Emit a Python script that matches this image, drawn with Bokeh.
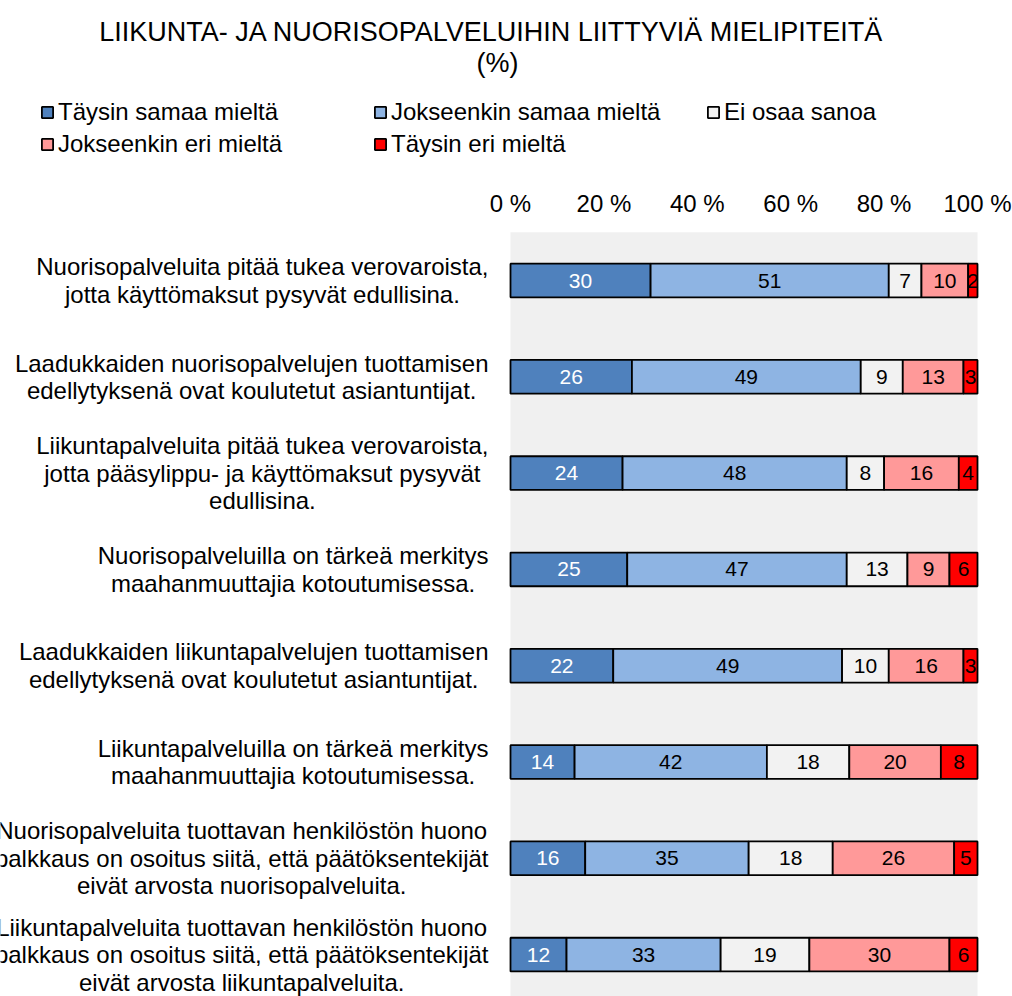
from bokeh.plotting import figure
from bokeh.models import ColumnDataSource, Range1d, Label, Legend, LegendItem
from bokeh.core.properties import value
from bokeh.embed import file_html
from bokeh.resources import INLINE

# ---------------- data ----------------
title_line1 = "LIIKUNTA- JA NUORISOPALVELUIHIN LIITTYVIÄ MIELIPITEITÄ"
title_line2 = "(%)"

categories = [
    "Nuorisopalveluita pitää tukea verovaroista,\njotta käyttömaksut pysyvät edullisina.",
    "Laadukkaiden nuorisopalvelujen tuottamisen\nedellytyksenä ovat koulutetut asiantuntijat.",
    "Liikuntapalveluita pitää tukea verovaroista,\njotta pääsylippu- ja käyttömaksut pysyvät\nedullisina.",
    "Nuorisopalveluilla on tärkeä merkitys\nmaahanmuuttajia kotoutumisessa.",
    "Laadukkaiden liikuntapalvelujen tuottamisen\nedellytyksenä ovat koulutetut asiantuntijat.",
    "Liikuntapalveluilla on tärkeä merkitys\nmaahanmuuttajia kotoutumisessa.",
    "Nuorisopalveluita tuottavan henkilöstön huono\npalkkaus on osoitus siitä, että päätöksentekijät\neivät arvosta nuorisopalveluita.",
    "Liikuntapalveluita tuottavan henkilöstön huono\npalkkaus on osoitus siitä, että päätöksentekijät\neivät arvosta liikuntapalveluita.",
]

series_names = ["Täysin samaa mieltä", "Jokseenkin samaa mieltä", "Ei osaa sanoa",
                "Jokseenkin eri mieltä", "Täysin eri mieltä"]
taysin_samaa = [30, 26, 24, 25, 22, 14, 16, 12]
jokseenkin_samaa = [51, 49, 48, 47, 49, 42, 35, 33]
ei_osaa = [7, 9, 8, 13, 10, 18, 18, 19]
jokseenkin_eri = [10, 13, 16, 9, 16, 20, 26, 30]
taysin_eri = [2, 3, 4, 6, 3, 8, 5, 6]

tick_values = [0, 20, 40, 60, 80, 100]
tick_labels = ["0 %", "20 %", "40 %", "60 %", "80 %", "100 %"]

# ---------------- styles / layout ----------------
colors = ["#4F81BD", "#8EB4E3", "#F2F2F2", "#FF9999", "#FF0000"]
value_text_colors = ["#FFFFFF", "#000000", "#000000", "#000000", "#000000"]
FONT = "Liberation Sans"
LABEL_PX = 24
W_PX, H_PX = 1012, 996
AREA_LEFT, AREA_RIGHT = 510, 977        # pixel extent of the 0..100 % area
FIRST_CENTER, ROW_STEP = 280, 96.3      # pixel centre of first bar, spacing of bars

# Helvetica / Arial advance widths (1/1000 em), used to centre wrapped label lines
_W = {' ': 278, ',': 278, '.': 278, '-': 333, '(': 333, ')': 333, '%': 889,
      'a': 556, 'b': 556, 'c': 500, 'd': 556, 'e': 556, 'f': 278, 'g': 556, 'h': 556,
      'i': 222, 'j': 222, 'k': 500, 'l': 222, 'm': 833, 'n': 556, 'o': 556, 'p': 556,
      'q': 556, 'r': 333, 's': 500, 't': 278, 'u': 556, 'v': 500, 'w': 722, 'x': 500,
      'y': 500, 'z': 500, 'ä': 556, 'ö': 556, 'å': 556,
      'A': 667, 'B': 667, 'C': 722, 'D': 722, 'E': 667, 'F': 611, 'G': 778, 'H': 722,
      'I': 278, 'J': 500, 'K': 667, 'L': 556, 'M': 833, 'N': 722, 'O': 778, 'P': 667,
      'Q': 778, 'R': 722, 'S': 667, 'T': 611, 'U': 722, 'V': 667, 'W': 944, 'X': 667,
      'Y': 667, 'Z': 611, 'Ä': 667, 'Ö': 778}
for d in "0123456789":
    _W[d] = 556


def text_width(s, px):
    return sum(_W.get(c, 556) for c in s) * px / 1000.0


n = len(categories)
ypos = list(range(n))
series = [taysin_samaa, jokseenkin_samaa, ei_osaa, jokseenkin_eri, taysin_eri]

xu = (AREA_RIGHT - AREA_LEFT) / 100.0
x_start = -AREA_LEFT / xu
x_end = 100 + (W_PX - AREA_RIGHT) / xu
y_top = -FIRST_CENTER / ROW_STEP
y_bottom = (H_PX - FIRST_CENTER) / ROW_STEP

p = figure(width=W_PX, height=H_PX,
           x_range=Range1d(x_start, x_end), y_range=Range1d(y_bottom, y_top),
           x_axis_location=None, y_axis_location=None,
           min_border_left=0, min_border_right=0, min_border_top=0, min_border_bottom=0,
           output_backend="svg", toolbar_location=None)
p.background_fill_color = "#FFFFFF"
p.border_fill_color = "#FFFFFF"
p.outline_line_color = None
p.grid.visible = False

# plot-area background
p.quad(left=0, right=100, top=-0.5, bottom=n - 0.5 + 0.1,
       fill_color="#F0F0F0", line_color=None)

# percentage axis labels on top
p.text(x=tick_values, y=[-0.5] * len(tick_values), text=tick_labels,
       y_offset=-29, text_align="center", text_baseline="middle",
       text_font=value(FONT), text_font_size="24px", text_color="#000000")

# stacked 100 % bars
totals = [sum(s[i] for s in series) for i in ypos]
cum = [0.0] * n
renderers = []
for k, s in enumerate(series):
    left = cum[:]
    right = [cum[i] + s[i] * 100.0 / totals[i] for i in ypos]
    mid = [(a + b) / 2 for a, b in zip(left, right)]
    src = ColumnDataSource(dict(y=ypos, left=left, right=right, mid=mid,
                                txt=[str(v) for v in s]))
    r = p.hbar(y="y", left="left", right="right", height=0.35, source=src,
               fill_color=colors[k], line_color="#000000", line_width=1.8)
    renderers.append(r)
    p.text(x="mid", y="y", text="txt", source=src, text_color=value_text_colors[k],
           text_font=value(FONT), text_font_size="21px",
           text_align="center", text_baseline="middle")
    cum = right

# category labels: each wrapped line centred within its block, block right-aligned
rows = dict(x=[], y=[], xo=[], yo=[], text=[])
LINE_H = 27.5
for i, cat in enumerate(categories):
    lines = cat.split("\n")
    wmax = max(text_width(l, LABEL_PX) for l in lines)
    m = len(lines)
    for k, line in enumerate(lines):
        rows["x"].append(0)
        rows["y"].append(ypos[i])
        rows["xo"].append(-(22 + wmax / 2.0))
        rows["yo"].append((k - (m - 1) / 2.0) * LINE_H)
        rows["text"].append(line)
p.text(x="x", y="y", x_offset="xo", y_offset="yo", text="text",
       source=ColumnDataSource(rows), text_align="center", text_baseline="middle",
       text_font=value(FONT), text_font_size="24px", text_color="#000000")

# title
p.add_layout(Label(x=491, y=H_PX - 31, x_units="screen", y_units="screen", text=title_line1,
                   text_align="center", text_baseline="middle", text_font=FONT,
                   text_font_size="27px", text_color="#000000"))
p.add_layout(Label(x=497, y=H_PX - 62, x_units="screen", y_units="screen", text=title_line2,
                   text_align="center", text_baseline="middle", text_font=FONT,
                   text_font_size="27px", text_color="#000000"))


# legend (two rows)
def make_legend(idx, loc):
    return Legend(items=[LegendItem(label=series_names[j], renderers=[renderers[j]]) for j in idx],
                  location=loc, orientation="horizontal", padding=0, margin=0,
                  spacing=15, glyph_width=14, glyph_height=14, label_standoff=4,
                  label_width=300, label_text_font=FONT, label_text_font_size="24px",
                  label_text_color="#000000",
                  border_line_color=None, background_fill_alpha=0)


p.add_layout(make_legend([0, 1, 2], (40, H_PX - 126)))
p.add_layout(make_legend([3, 4], (40, H_PX - 158)))

open("out.html", "w").write(file_html(p, INLINE))
